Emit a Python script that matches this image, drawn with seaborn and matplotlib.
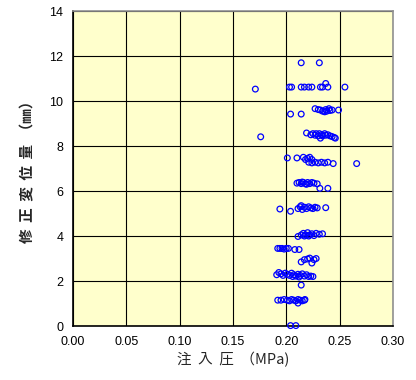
import matplotlib
matplotlib.use("Agg")
import matplotlib.pyplot as plt
import seaborn as sns
import pandas as pd

# injection pressure (MPa) and corrected displacement (mm)
pressure = [
    0.214, 0.231,
    0.171, 0.203, 0.205, 0.214, 0.217, 0.221, 0.224, 0.232, 0.234, 0.237, 0.239, 0.255,
    0.204, 0.214, 0.227, 0.230, 0.232, 0.234, 0.236, 0.237, 0.238, 0.240, 0.241, 0.243, 0.249,
    0.176, 0.219, 0.223, 0.225, 0.227, 0.228, 0.230, 0.231, 0.233, 0.234, 0.236, 0.237, 0.239,
    0.241, 0.243, 0.245, 0.246, 0.232,
    0.201, 0.210, 0.216, 0.218, 0.220, 0.222, 0.224, 0.221, 0.224, 0.227, 0.230, 0.233, 0.236,
    0.239, 0.244, 0.266,
    0.210, 0.212, 0.214, 0.216, 0.218, 0.220, 0.222, 0.224, 0.226, 0.229, 0.2315, 0.239, 0.215, 0.219,
    0.194, 0.204, 0.211, 0.213, 0.215, 0.217, 0.219, 0.221, 0.223, 0.225, 0.227, 0.229, 0.237, 0.214,
    0.211, 0.214, 0.216, 0.218, 0.220, 0.222, 0.224, 0.226, 0.228, 0.231, 0.234, 0.217, 0.221,
    0.192, 0.194, 0.196, 0.198, 0.200, 0.202, 0.208, 0.212,
    0.214, 0.217, 0.220, 0.222, 0.224, 0.226, 0.228,
    0.191, 0.193, 0.195, 0.197, 0.199, 0.201, 0.203, 0.205, 0.207, 0.209, 0.211, 0.213, 0.215,
    0.217, 0.219, 0.221, 0.223, 0.225, 0.206, 0.212,
    0.214,
    0.192, 0.195, 0.198, 0.201, 0.203, 0.205, 0.207, 0.209, 0.211, 0.213, 0.215, 0.217, 0.2175, 0.211,
    0.204, 0.209,
]
displacement = [
    11.70, 11.70,
    10.53, 10.62, 10.62, 10.62, 10.62, 10.62, 10.62, 10.62, 10.62, 10.78, 10.62, 10.62,
    9.42, 9.42, 9.66, 9.62, 9.60, 9.55, 9.52, 9.62, 9.55, 9.66, 9.58, 9.60, 9.60,
    8.41, 8.58, 8.50, 8.55, 8.48, 8.55, 8.45, 8.55, 8.50, 8.45, 8.55, 8.48, 8.50,
    8.45, 8.42, 8.38, 8.35, 8.35,
    7.47, 7.47, 7.50, 7.40, 7.45, 7.50, 7.40, 7.28, 7.25, 7.28, 7.25, 7.28, 7.25,
    7.28, 7.22, 7.22,
    6.35, 6.38, 6.33, 6.38, 6.32, 6.38, 6.33, 6.38, 6.35, 6.32, 6.12, 6.12, 6.40, 6.30,
    5.20, 5.10, 5.22, 5.30, 5.18, 5.28, 5.22, 5.30, 5.25, 5.22, 5.28, 5.25, 5.26, 5.35,
    3.98, 4.05, 4.12, 4.05, 4.15, 4.05, 4.10, 4.02, 4.12, 4.08, 4.10, 4.00, 4.00,
    3.45, 3.45, 3.45, 3.42, 3.45, 3.45, 3.40, 3.40,
    2.85, 2.95, 2.98, 3.02, 2.80, 2.95, 3.00,
    2.28, 2.38, 2.32, 2.25, 2.35, 2.30, 2.25, 2.35, 2.28, 2.22, 2.30, 2.25, 2.32,
    2.22, 2.28, 2.20, 2.22, 2.20, 2.20, 2.18,
    1.82,
    1.15, 1.15, 1.18, 1.15, 1.12, 1.18, 1.15, 1.12, 1.18, 1.15, 1.12, 1.15, 1.18, 1.02,
    0.02, 0.02,
]
x_ticks = [0.00, 0.05, 0.10, 0.15, 0.20, 0.25, 0.30]
y_ticks = [0, 2, 4, 6, 8, 10, 12, 14]

df = pd.DataFrame({"p": pressure, "d": displacement})

sns.set_style("white")
plt.rcParams['font.family'] = ['Liberation Sans', 'Noto Sans CJK JP', 'DejaVu Sans']

fig = plt.figure(figsize=(4.16, 3.80), dpi=100)
ax = fig.add_axes([0.1755, 0.142, 0.769, 0.829])
ax.set_facecolor("#FFFFCC")

sns.scatterplot(data=df, x="p", y="d", ax=ax, marker="o", s=17,
                facecolor="none", edgecolor="#0000FF", linewidth=0.9,
                clip_on=False, zorder=3)

ax.set_xlim(0, 0.30)
ax.set_ylim(0, 14)
ax.set_xticks(x_ticks)
ax.set_xticklabels([f"{t:.2f}" for t in x_ticks])
ax.set_yticks(y_ticks)
ax.grid(True, color="black", linewidth=0.8)
ax.set_axisbelow(True)
ax.tick_params(length=0, labelsize=9, pad=7, colors="black")

for side in ["left", "bottom"]:
    ax.spines[side].set_color("black")
    ax.spines[side].set_linewidth(1.2)
for side in ["top", "right"]:
    ax.spines[side].set_color("#909090")
    ax.spines[side].set_linewidth(1.2)

ax.set_xlabel("注  入  圧  （MPa)", fontsize=10.5,
              family=['Noto Sans CJK JP', 'DejaVu Sans'], labelpad=3)
ax.set_ylabel("修  正  変  位  量  （㎜）", fontsize=10.5, fontweight="bold",
              family=['Noto Sans CJK JP', 'DejaVu Sans'], labelpad=10)

fig.savefig("out.png", dpi=100)
